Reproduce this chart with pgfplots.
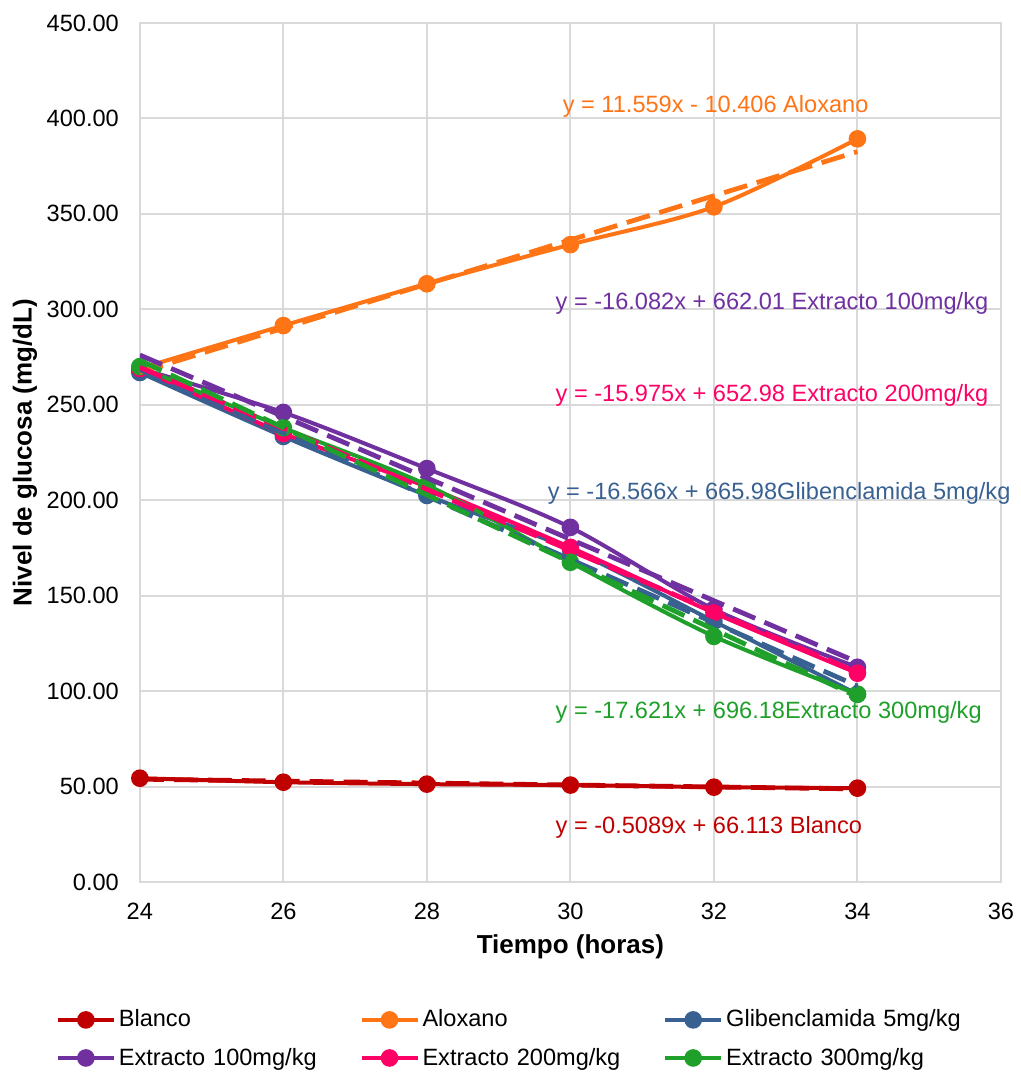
\documentclass[border=0pt]{standalone}
\usepackage{fontspec}
\setmainfont{Liberation Sans}
\usepackage{pgfplots}
\pgfplotsset{compat=1.18}
\definecolor{cBlanco}{HTML}{C00000}
\definecolor{cAlox}{HTML}{FF7415}
\definecolor{cGlib}{HTML}{386192}
\definecolor{cE100}{HTML}{7030A0}
\definecolor{cE200}{HTML}{FF0066}
\definecolor{cE300}{HTML}{1EA02A}
\definecolor{gridc}{HTML}{D9D9D9}
\pgfplotsset{
  ser/.style={#1, line width=2pt, smooth, mark=*, mark size=3.4pt, mark options={solid, fill=#1}},
  trend/.style={#1, line width=2.4pt, dash pattern=on 12pt off 5pt, forget plot},
}
\begin{document}
\begin{tikzpicture}
\begin{axis}[
    name=ax,
    scale only axis,
    width=431pt, height=430pt,
    xmin=24, xmax=36, ymin=0, ymax=450,
    xtick={24,26,...,36},
    ytick={0,50,...,450},
    grid=major,
    grid style={gridc, line width=1pt},
    axis line style={gridc, line width=1pt},
    major tick length=0pt,
    clip mode=individual,
    /pgf/number format/assume math mode=true,
    font=\fontsize{11.8}{14}\selectfont,
    yticklabel style={/pgf/number format/fixed, /pgf/number format/fixed zerofill,
        /pgf/number format/precision=2, anchor=east, xshift=-7pt},
    xticklabel style={anchor=center, yshift=-14.5pt},
    xlabel={Tiempo (horas)},
    ylabel={Nivel de glucosa (mg/dL)},
    every axis x label/.style={at={(axis description cs:0.5,-0.0756)}, anchor=center,
        font=\fontsize{13}{15}\selectfont\bfseries},
    every axis y label/.style={at={(axis description cs:-0.1334,0.5)}, rotate=90, anchor=center,
        font=\fontsize{13}{15}\selectfont\bfseries},
    legend columns=3,
    legend style={at={(axis description cs:0.4315,-0.1826)}, anchor=center, draw=none,
        font=\fontsize{11.8}{14}\selectfont, cells={anchor=west},
        nodes={text width=119pt, inner sep=1.5pt}, row sep=6pt, column sep=0pt},
    legend image code/.code={\draw[mark repeat=2, mark phase=2, #1]
        plot coordinates {(0pt,0pt) (14pt,0pt) (28pt,0pt)};},
]
\addplot[ser=cBlanco] coordinates {(24,54.4) (26,52.3) (28,51.3) (30,50.8) (32,49.7) (34,49.2)};
\addlegendentry{Blanco}
\addplot[ser=cAlox] coordinates {(24,269.0) (26,291.5) (28,313.4) (30,333.9) (32,353.7) (34,389.3)};
\addlegendentry{Aloxano}
\addplot[ser=cGlib] coordinates {(24,266.9) (26,233.4) (28,202.5) (30,174.3) (32,136.6) (34,98.4)};
\addlegendentry{Glibenclamida 5mg/kg}
\addplot[ser=cE100] coordinates {(24,269.0) (26,246.0) (28,216.6) (30,185.8) (32,142.9) (34,112.5)};
\addlegendentry{Extracto 100mg/kg}
\addplot[ser=cE200] coordinates {(24,269.0) (26,235.0) (28,207.0) (30,175.3) (32,141.0) (34,109.4)};
\addlegendentry{Extracto 200mg/kg}
\addplot[ser=cE300] coordinates {(24,270.0) (26,238.0) (28,208.0) (30,167.5) (32,128.7) (34,98.4)};
\addlegendentry{Extracto 300mg/kg}
% linear trendlines
\addplot[trend=cBlanco] coordinates {(24,53.899) (34,48.810)};
\addplot[trend=cAlox] coordinates {(24,267.010) (34,382.600)};
\addplot[trend=cGlib] coordinates {(24,268.396) (34,102.736)};
\addplot[trend=cE100] coordinates {(24,276.042) (34,115.222)};
\addplot[trend=cE200] coordinates {(24,269.580) (34,109.830)};
\addplot[trend=cE300] coordinates {(24,273.276) (34,97.066)};
% trendline labels
\node[anchor=west, inner sep=0pt, text=cAlox] at (axis cs:29.889,406.1) {y = 11.559x - 10.406 Aloxano};
\node[anchor=west, inner sep=0pt, text=cE100] at (axis cs:29.79,303.0) {y = -16.082x + 662.01 Extracto 100mg/kg};
\node[anchor=west, inner sep=0pt, text=cE200] at (axis cs:29.79,254.8) {y = -15.975x + 652.98 Extracto 200mg/kg};
\node[anchor=west, inner sep=0pt, text=cGlib] at (axis cs:29.68,203.6) {y = -16.566x + 665.98Glibenclamida 5mg/kg};
\node[anchor=west, inner sep=0pt, text=cE300] at (axis cs:29.79,89.0) {y = -17.621x + 696.18Extracto 300mg/kg};
\node[anchor=west, inner sep=0pt, text=cBlanco] at (axis cs:29.79,28.8) {y = -0.5089x + 66.113 Blanco};
\end{axis}
\path (ax.south west) ++(-70pt,-96pt);
\path (ax.north east) ++(9pt,11.5pt);
\end{tikzpicture}
\end{document}
